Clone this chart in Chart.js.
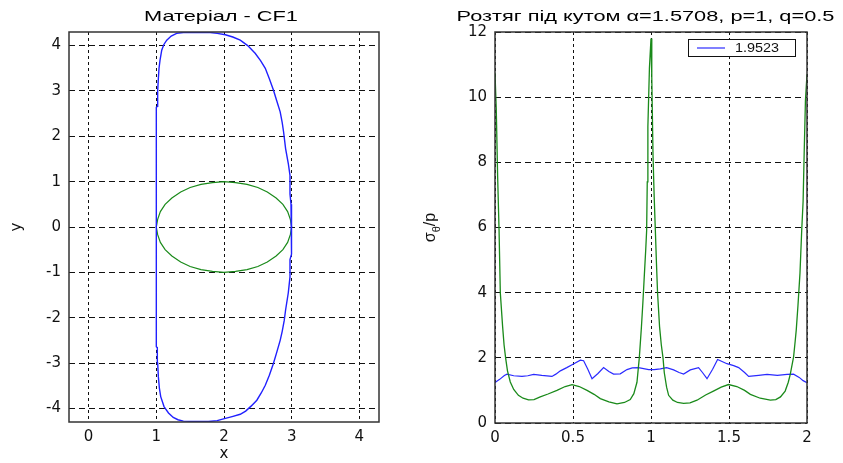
<!DOCTYPE html>
<html>
<head>
<meta charset="utf-8">
<script src="https://cdn.jsdelivr.net/npm/chart.js@4.4.0/dist/chart.umd.min.js"></script>
<style>
  html, body { margin: 0; padding: 0; background: #fff; }
  #wrap { position: relative; width: 843px; height: 463px; }
  canvas { position: absolute; top: 0; }
  #grafico1 { left: 0; }
  #grafico2 { left: 421px; }
</style>
</head>
<body>
<div id="wrap">
  <canvas id="grafico1" width="421" height="463"></canvas>
  <canvas id="grafico2" width="422" height="463"></canvas>
</div>
<script>
// ---- dados: grafico da esquerda (contorno) ----
const contornoX = [1.00, 1.00, 1.00, 1.00, 1.015, 1.02, 1.03, 1.04, 1.055, 1.08, 1.11, 1.154, 1.22, 1.30, 1.40, 1.60, 1.795, 1.90, 2.02, 2.13, 2.24, 2.35, 2.46, 2.54, 2.61, 2.67, 2.73, 2.78, 2.83, 2.86, 2.88, 2.91, 2.95, 2.975, 2.975, 2.99, 3.00, 3.00,
                   3.00, 2.99, 2.975, 2.975, 2.95, 2.91, 2.89, 2.86, 2.83, 2.78, 2.73, 2.67, 2.61, 2.55, 2.485, 2.40, 2.32, 2.24, 2.12, 2.02, 1.90, 1.77, 1.60, 1.40, 1.32, 1.25, 1.18, 1.114, 1.065, 1.045, 1.03, 1.02, 1.015, 1.00, 1.00, 1.00, 1.00];
const contornoY = [0.00, 1.00, 2.00, 2.64, 2.66, 3.00, 3.27, 3.50, 3.68, 3.90, 4.02, 4.12, 4.21, 4.27, 4.29, 4.29, 4.29, 4.27, 4.24, 4.19, 4.12, 4.00, 3.83, 3.67, 3.50, 3.27, 3.02, 2.78, 2.54, 2.30, 2.10, 1.73, 1.40, 1.14, 0.73, 0.50, 0.20, 0.00,
                   -0.30, -0.60, -0.72, -1.10, -1.45, -1.83, -2.06, -2.30, -2.50, -2.76, -3.01, -3.27, -3.49, -3.66, -3.82, -3.95, -4.06, -4.13, -4.18, -4.22, -4.27, -4.29, -4.29, -4.28, -4.25, -4.20, -4.10, -3.96, -3.74, -3.55, -3.30, -3.00, -2.66, -2.64, -2.00, -1.00, 0.00];
const circuloX = [3.00, 2.98, 2.94, 2.87, 2.77, 2.64, 2.50, 2.34, 2.17, 2.00, 1.83, 1.66, 1.50, 1.36, 1.23, 1.13, 1.06, 1.02, 1.00,
                  1.02, 1.06, 1.13, 1.23, 1.36, 1.50, 1.66, 1.83, 2.00, 2.17, 2.34, 2.50, 2.64, 2.77, 2.87, 2.94, 2.98, 3.00];
const circuloY = [0.00, 0.17, 0.34, 0.50, 0.64, 0.77, 0.87, 0.94, 0.98, 1.00, 0.98, 0.94, 0.87, 0.77, 0.64, 0.50, 0.34, 0.17, 0.00,
                  -0.17, -0.34, -0.50, -0.64, -0.77, -0.87, -0.94, -0.98, -1.00, -0.98, -0.94, -0.87, -0.77, -0.64, -0.50, -0.34, -0.17, 0.00];
const ticksX1 = [0, 1, 2, 3, 4];
const ticksY1 = [-4, -3, -2, -1, 0, 1, 2, 3, 4];
const titulo1 = 'Матеріал - CF1';

// ---- dados: grafico da direita (tensao) ----
const verdeX = [0, 0.008, 0.017, 0.026, 0.034, 0.049, 0.058, 0.068, 0.08, 0.098, 0.12, 0.15, 0.18, 0.215, 0.25, 0.29, 0.34, 0.397, 0.45, 0.494,
                0.54, 0.59, 0.635, 0.675, 0.73, 0.782, 0.83, 0.867, 0.89, 0.91, 0.925, 0.938, 0.948, 0.958, 0.966, 0.972, 0.976, 0.98, 0.99, 1.0,
                1.005, 1.013, 1.02, 1.028, 1.035, 1.042, 1.055, 1.066, 1.077, 1.085, 1.1, 1.113, 1.14, 1.17, 1.209, 1.25, 1.295, 1.35, 1.4, 1.45,
                1.497, 1.55, 1.6, 1.637, 1.7, 1.765, 1.8, 1.83, 1.86, 1.88, 1.893, 1.914, 1.924, 1.931, 1.942, 1.955, 1.966, 1.975, 1.982, 1.99, 2.0];
const verdeY = [10.75, 9.65, 7.55, 5.92, 4.0, 2.95, 2.4, 2.0, 1.6, 1.26, 1.03, 0.85, 0.76, 0.71, 0.72, 0.8, 0.89, 1.0, 1.12, 1.18,
                1.12, 1.0, 0.88, 0.75, 0.65, 0.59, 0.63, 0.72, 0.9, 1.25, 2.0, 2.9, 3.7, 4.6, 5.3, 5.9, 7.4, 9.1, 10.9, 11.8,
                10.6, 8.2, 7.0, 5.9, 4.9, 4.0, 2.95, 2.4, 2.0, 1.55, 1.1, 0.85, 0.7, 0.63, 0.6, 0.62, 0.7, 0.86, 0.98, 1.1,
                1.18, 1.12, 1.0, 0.88, 0.76, 0.7, 0.72, 0.8, 0.98, 1.25, 1.5, 2.03, 2.5, 2.85, 3.6, 4.6, 5.9, 6.8, 8.3, 9.9, 10.7];
const azulX = [0, 0.03, 0.06, 0.077, 0.12, 0.173, 0.21, 0.248, 0.30, 0.365, 0.39, 0.419, 0.46, 0.494, 0.547, 0.568, 0.595, 0.622, 0.66, 0.696,
               0.73, 0.760, 0.803, 0.846, 0.88, 0.92, 0.985, 1.02, 1.06, 1.10, 1.145, 1.18, 1.209, 1.252, 1.305, 1.33, 1.359, 1.395, 1.427, 1.487,
               1.53, 1.562, 1.60, 1.626, 1.69, 1.744, 1.81, 1.872, 1.914, 1.95, 1.975, 2.0];
const azulY = [1.24, 1.34, 1.46, 1.50, 1.45, 1.43, 1.45, 1.49, 1.46, 1.43, 1.50, 1.60, 1.70, 1.79, 1.93, 1.91, 1.65, 1.36, 1.52, 1.70,
               1.58, 1.50, 1.51, 1.64, 1.69, 1.70, 1.64, 1.64, 1.66, 1.70, 1.63, 1.55, 1.50, 1.63, 1.70, 1.55, 1.36, 1.65, 1.95, 1.82,
               1.76, 1.70, 1.55, 1.43, 1.46, 1.49, 1.46, 1.49, 1.50, 1.40, 1.30, 1.24];
const legendaAzul = '1.9523';
const ticksX2 = [0, 0.5, 1, 1.5, 2];
const ticksY2 = [0, 2, 4, 6, 8, 10, 12];
const titulo2 = 'Розтяг під кутом α=1.5708, p=1, q=0.5';

function pontos(xs, ys) {
    let lista = [];
    for (let i = 0; i < Math.min(xs.length, ys.length); i++) {
        lista.push({ x: xs[i], y: ys[i] });
    }
    return lista;
}

const fonteTexto = "'Liberation Sans', Arial, sans-serif";
Chart.defaults.font.family = "'DejaVu Sans', sans-serif";
Chart.defaults.font.size = 15;
Chart.defaults.color = '#111';

// moldura preta em volta da area do grafico
const moldura = {
    id: 'moldura',
    afterDatasetsDraw(chart) {
        const a = chart.chartArea;
        const ctx = chart.ctx;
        ctx.save();
        ctx.strokeStyle = '#333';
        ctx.lineWidth = 1.5;
        ctx.strokeRect(a.left, a.top, a.right - a.left, a.bottom - a.top);
        ctx.restore();
    }
};

// titulo esticado na horizontal, como no original
const tituloLargo = {
    id: 'tituloLargo',
    afterDraw(chart, args, opts) {
        const a = chart.chartArea;
        const ctx = chart.ctx;
        ctx.save();
        ctx.font = '15px ' + fonteTexto;
        ctx.fillStyle = '#000';
        ctx.textAlign = 'center';
        ctx.textBaseline = 'alphabetic';
        ctx.translate(opts.centro || (a.left + a.right) / 2, 21);
        ctx.scale(1.45, 1);
        ctx.fillText(opts.texto, 0, 0);
        ctx.restore();
    }
};

function eixo(ticks, tam, horizontal, min, max, dash) {
    return {
        type: 'linear',
        min: min,
        max: max,
        afterBuildTicks: function (scale) {
            scale.ticks = ticks.map(v => ({ value: v }));
        },
        afterFit: function (scale) {
            if (horizontal) scale.height = tam; else scale.width = tam;
        },
        grid: { color: '#111', lineWidth: 1, drawTicks: false },
        border: { display: false, dash: dash },
        ticks: {
            padding: horizontal ? 6 : 8,
            callback: function (value) { return String(value); }
        }
    };
}

const ctx1 = document.getElementById('grafico1');

new Chart(ctx1, {
    type: 'scatter',
    data: {
        datasets: [
            {
                label: 'contorno',
                data: pontos(contornoX, contornoY),
                showLine: true,
                borderColor: '#2020ff',
                borderWidth: 1.4,
                pointRadius: 0
            },
            {
                label: 'circulo',
                data: pontos(circuloX, circuloY),
                showLine: true,
                borderColor: '#1a8a1a',
                borderWidth: 1.2,
                pointRadius: 0
            }
        ]
    },
    options: {
        responsive: false,
        animation: false,
        layout: { padding: { left: 0, right: 42, top: 32, bottom: 0 } },
        plugins: {
            legend: { display: false },
            tooltip: { enabled: false },
            title: { display: false },
            tituloLargo: { texto: titulo1, centro: 221 }
        },
        scales: {
            x: Object.assign(eixo(ticksX1, 41, true, -0.29, 4.29, [3, 3]), {
                title: { display: true, text: 'x', color: '#111', padding: { top: 0, bottom: 0 } }
            }),
            y: Object.assign(eixo(ticksY1, 69, false, -4.3, 4.3, [6, 4]), {
                title: { display: true, text: 'y', color: '#111', padding: { top: 8, bottom: 0 } }
            })
        }
    },
    plugins: [moldura, tituloLargo]
});

// rotulo do eixo y: sigma com theta subscrito / p
const rotuloSigma = {
    id: 'rotuloSigma',
    afterDraw(chart) {
        const a = chart.chartArea;
        const ctx = chart.ctx;
        ctx.save();
        ctx.translate(14, (a.top + a.bottom) / 2);
        ctx.rotate(-Math.PI / 2);
        ctx.fillStyle = '#111';
        ctx.textBaseline = 'alphabetic';
        ctx.font = '16px ' + fonteTexto;
        const w1 = ctx.measureText('σ').width;
        ctx.font = '11px ' + fonteTexto;
        const w2 = ctx.measureText('θ').width;
        ctx.font = '16px ' + fonteTexto;
        const w3 = ctx.measureText('/p').width;
        let x0 = -(w1 + w2 + w3) / 2;
        ctx.fillText('σ', x0, 0);
        ctx.font = '11px ' + fonteTexto;
        ctx.fillText('θ', x0 + w1, 5);
        ctx.font = '16px ' + fonteTexto;
        ctx.fillText('/p', x0 + w1 + w2, 0);
        ctx.restore();
    }
};

// legenda com moldura dentro da area do grafico
const legendaCaixa = {
    id: 'legendaCaixa',
    afterDraw(chart) {
        const a = chart.chartArea;
        const ctx = chart.ctx;
        const ds = chart.data.datasets[1];
        const x = a.right - 119, y = a.top + 7, w = 107, h = 17;
        ctx.save();
        ctx.fillStyle = '#fff';
        ctx.fillRect(x, y, w, h);
        ctx.strokeStyle = '#111';
        ctx.lineWidth = 1;
        ctx.strokeRect(x + 0.5, y + 0.5, w, h);
        ctx.strokeStyle = ds.borderColor;
        ctx.lineWidth = 1.2;
        ctx.beginPath();
        ctx.moveTo(x + 9, y + 9);
        ctx.lineTo(x + 37, y + 9);
        ctx.stroke();
        ctx.fillStyle = '#111';
        ctx.font = '12px ' + fonteTexto;
        ctx.textBaseline = 'middle';
        ctx.translate(x + 47, y + 9.5);
        ctx.scale(1.2, 1);
        ctx.fillText(ds.label, 0, 0);
        ctx.restore();
    }
};

const ctx2 = document.getElementById('grafico2');

new Chart(ctx2, {
    type: 'scatter',
    data: {
        datasets: [
            {
                label: 'verde',
                data: pontos(verdeX, verdeY),
                showLine: true,
                borderColor: '#1a8a1a',
                borderWidth: 1.3,
                pointRadius: 0
            },
            {
                label: legendaAzul,
                data: pontos(azulX, azulY),
                showLine: true,
                borderColor: '#2a2aff',
                borderWidth: 1.2,
                pointRadius: 0
            }
        ]
    },
    options: {
        responsive: false,
        animation: false,
        layout: { padding: { left: 0, right: 36, top: 32, bottom: 0 } },
        plugins: {
            legend: { display: false },
            tooltip: { enabled: false },
            title: { display: false },
            tituloLargo: { texto: titulo2, centro: 224.5 }
        },
        scales: {
            x: eixo(ticksX2, 40, true, 0, 2, [3, 3]),
            y: eixo(ticksY2, 74, false, 0, 12, [6, 4])
        }
    },
    plugins: [moldura, rotuloSigma, legendaCaixa, tituloLargo]
});
</script>
</body>
</html>
